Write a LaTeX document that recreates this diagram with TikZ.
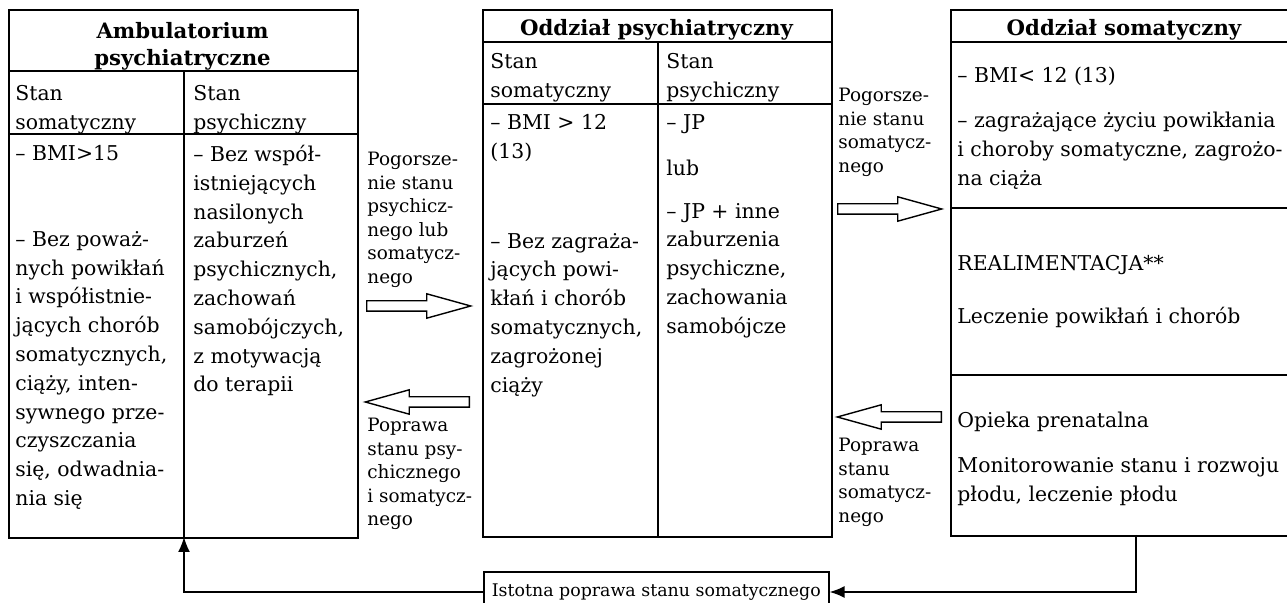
\documentclass[tikz,border=0pt]{standalone}
\usepackage{fontspec}
\setmainfont{DejaVu Serif}
\usetikzlibrary{shapes.arrows, arrows.meta, positioning}

\tikzset{
  box/.style={rectangle, draw, line width=0.8pt, anchor=north west, inner sep=0pt},
  rule/.style={line width=0.8pt},
  head/.style={anchor=north, align=center, inner sep=0pt, yshift=7pt, font=\bfseries\fontsize{10.6}{13.5}\selectfont},
  txt/.style={anchor=north west, align=left, inner sep=0pt, yshift=7.6pt, font=\fontsize{10.2}{14.4}\selectfont},
  note/.style={anchor=north west, align=left, inner sep=0pt, yshift=7pt, font=\fontsize{9.2}{11.75}\selectfont},
  fatarrow/.style={single arrow, draw, line width=0.7pt, anchor=tail, inner xsep=0pt, inner ysep=2.25pt, minimum height=52pt, single arrow head extend=3.5pt, single arrow tip angle=31},
  edge/.style={line width=0.8pt, -{Latex[length=7.5pt, width=6pt]}}
}

\begin{document}
\begin{tikzpicture}[x=0.5pt, y=-0.5pt]
\useasboundingbox (0,0) rectangle (1287,603);

% Ambulatorium
\node[box, minimum width=174.5pt, minimum height=264pt] (amb) at (8,9) {};
\draw[rule] (8,71) -- (357,71) (8,134) -- (357,134) (184,71) -- (184,537);
\node[head] (ambhead) at (182.5,36) {Ambulatorium\\psychiatryczne};
\node[txt] (ambs1) at (15,100) {Stan\\somatyczny};
\node[txt] (ambs2) at (193,100) {Stan\\psychiczny};
\node[txt] (ambb1) at (15,160) {– BMI>15\\[28.6pt]– Bez poważ-\\nych powikłań\\i współistnie-\\jących chorób\\somatycznych,\\ciąży, inten-\\sywnego prze-\\czyszczania\\się, odwadnia-\\nia się};
\node[txt] (ambb2) at (193,160) {– Bez współ-\\istniejących\\nasilonych\\zaburzeń\\psychicznych,\\zachowań\\samobójczych,\\z motywacją\\do terapii};

% Oddzial psychiatryczny
\node[box, minimum width=174.5pt, minimum height=263.5pt] (psy) at (482,9) {};
\draw[rule] (482,42) -- (831,42) (482,104) -- (831,104) (658,42) -- (658,536);
\node[head] (psyhead) at (656.5,33) {Oddział psychiatryczny};
\node[txt] (psys1) at (490,68) {Stan\\somatyczny};
\node[txt] (psys2) at (666,68) {Stan\\psychiczny};
\node[txt] (psyb1) at (490,129) {– BMI > 12\\(13)\\[30.6pt]– Bez zagraża-\\jących powi-\\kłań i chorób\\somatycznych,\\zagrożonej\\ciąży};
\node[txt] (psyb2) at (666,129) {– JP\\[8.6pt]lub\\[7.1pt]– JP + inne\\zaburzenia\\psychiczne,\\zachowania\\samobójcze};

% Oddzial somatyczny
\node[box, minimum width=174pt, minimum height=263pt] (som) at (950,9) {};
\draw[rule] (950,42) -- (1298,42) (950,208) -- (1298,208) (950,375) -- (1298,375);
\node[head] (somhead) at (1124,33) {Oddział somatyczny};
\node[txt] (somb1) at (957,82) {– BMI< 12 (13)\\[8.1pt]– zagrażające życiu powikłania\\i choroby somatyczne, zagrożo-\\na ciąża};
\node[txt] (somb2) at (957,270) {REALIMENTACJA**\\[12.1pt]Leczenie powikłań i chorób};
\node[txt] (somb3) at (957,427) {Opieka prenatalna\\[8.1pt]Monitorowanie stanu i rozwoju\\płodu, leczenie płodu};

% strzalki
\node[fatarrow] (a1) at (366,306) {};
\node[fatarrow, shape border rotate=180] (a2) at (470,402) {};
\node[fatarrow] (a3) at (837,209) {};
\node[fatarrow, shape border rotate=180] (a4) at (942,417) {};

\node[note] (n1) at (367,166) {Pogorsze-\\nie stanu\\psychicz-\\nego lub\\somatycz-\\nego};
\node[note] (n2) at (367,432) {Poprawa\\stanu psy-\\chicznego\\i somatycz-\\nego};
\node[note] (n3) at (838,102) {Pogorsze-\\nie stanu\\somatycz-\\nego};
\node[note] (n4) at (838,452) {Poprawa\\stanu\\somatycz-\\nego};

% powrot
\node[box, anchor=west, inner sep=3pt, minimum width=172.5pt, minimum height=20pt, font=\fontsize{8.7}{11}\selectfont] (popr) at (483,592) {Istotna poprawa stanu somatycznego};
\coordinate (somout) at (1136,535);
\coordinate (ambin) at (184,537);

\draw[edge] (somout) |- (popr.east);
\draw[edge] (popr.west) -| (ambin);

\end{tikzpicture}
\end{document}
